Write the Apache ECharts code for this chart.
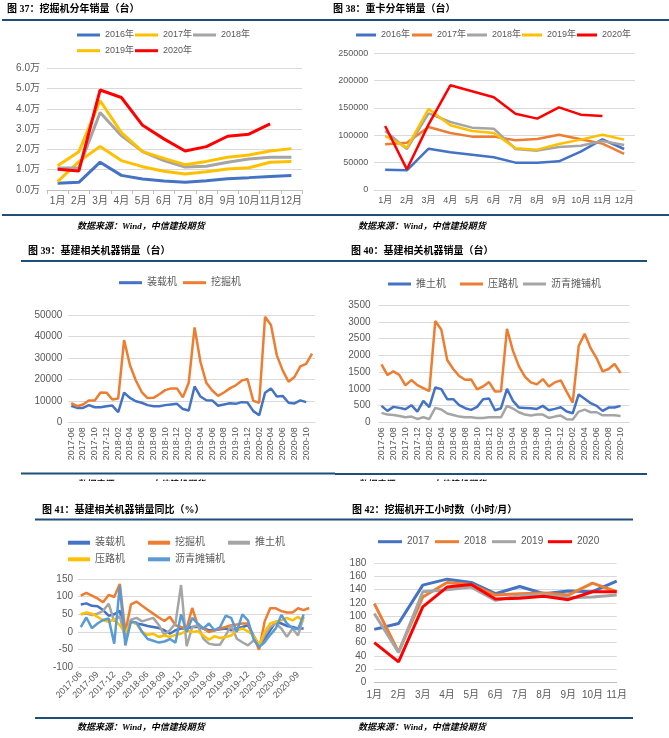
<!DOCTYPE html>
<html><head><meta charset="utf-8">
<script src="https://cdn.jsdelivr.net/npm/echarts/dist/echarts.min.js"></script>
<style>html,body{margin:0;padding:0;background:#fff}#c{width:669px;height:738px}</style>
</head><body><div id="c"></div>
<script>
// ---------- categories ----------
const months12 = ['1月','2月','3月','4月','5月','6月','7月','8月','9月','10月','11月','12月'];
const months11 = ['1月','2月','3月','4月','5月','6月','7月','8月','9月','10月','11月'];
const ym = ['2017-06','2017-07','2017-08','2017-09','2017-10','2017-11','2017-12',
  '2018-01','2018-02','2018-03','2018-04','2018-05','2018-06','2018-07','2018-08','2018-09','2018-10','2018-11','2018-12',
  '2019-01','2019-02','2019-03','2019-04','2019-05','2019-06','2019-07','2019-08','2019-09','2019-10','2019-11','2019-12',
  '2020-01','2020-02','2020-03','2020-04','2020-05','2020-06','2020-07','2020-08','2020-09','2020-10','2020-11'];

// ---------- 图37 挖掘机分年销量（台） ----------
const exc2016 = [3300,3800,13700,7200,5400,4400,3800,4600,5600,6100,6700,7200];
const exc2017 = [4100,14000,21500,14500,11500,9200,7900,9000,10400,11000,13700,14100];
const exc2018 = [10800,11000,38200,26800,18900,14500,11300,11700,13700,15300,16100,16100];
const exc2019 = [12000,18900,44000,28300,18900,15600,12500,14100,16100,17300,19200,20400];
const exc2020 = [10200,9400,49300,45600,31900,25200,19200,21400,26500,27500,32600];

// ---------- 图38 重卡分年销量（台） ----------
const truck2016 = [37200,36000,75600,68900,64600,59800,50000,50000,52400,70100,92700,75000];
const truck2017 = [83500,86600,115200,104300,97600,97600,90900,93300,101200,92700,84800,65900];
const truck2018 = [108000,75000,140200,124400,114000,112200,75000,72000,78700,81100,89600,82300];
const truck2019 = [98800,77400,148200,118300,108000,104300,76200,73800,84100,92100,101200,92100];
const truck2020 = [117100,37800,120000,191500,180500,169500,139600,130500,151200,137800,135400];

// ---------- 图39 基建相关机器销量（台） ----------
const loaderSales = [7700,6700,6700,8000,7000,7000,7500,7800,4700,13800,11400,9800,9100,8000,7500,7500,8000,8300,8600,6200,5500,16700,12000,10300,10200,7700,8300,8900,8600,9400,9200,5200,3300,13800,15800,12000,12300,9100,8800,10200,9400];
const excSales = [8900,7500,8300,10200,10200,13900,13800,10600,11100,38300,26600,19500,14100,11300,11400,13100,15000,15800,15800,11600,18400,44200,28100,18400,14800,12300,13900,15800,17200,19400,20200,10000,9100,49200,45300,31200,24200,18900,21100,26100,27200,32000];

// ---------- 图40 基建相关机器销量（台） ----------
const dozerSales = [490,340,460,430,390,510,320,640,450,1040,990,690,690,510,420,370,460,690,710,360,420,1000,640,440,430,420,400,490,360,400,450,320,270,830,700,570,490,340,440,440,490];
const rollerSales = [1730,1410,1520,1410,1100,1260,1110,1020,930,3020,2770,1860,1590,1380,1270,1280,980,1070,1200,920,930,2790,2130,1670,1360,1190,1130,1290,1070,1190,1250,910,590,2280,2640,2210,1910,1520,1590,1740,1470];
const paverSales = [280,230,220,190,150,170,100,150,100,430,380,260,220,170,150,150,130,130,150,150,150,490,410,300,230,200,230,230,130,170,200,90,80,320,380,300,300,210,210,210,190];

// ---------- 图41 基建相关机器销量同比（%） ----------
const yoyLoader = [78,81,74,73,62,46,50,60,-5,29,24,21,17,14,11,5,-5,5,10,10,14,14,10,5,5,8,10,5,10,14,19,-10,-38,-19,5,29,24,17,14,10,10];
const yoyExc = [103,111,103,95,84,105,99,136,0,78,86,74,63,52,41,31,43,19,14,10,68,19,10,0,5,10,14,19,21,24,24,-14,-50,30,67,67,59,55,55,67,62,68];
const yoyDozer = [50,52,48,52,60,80,30,45,-20,35,40,30,35,40,20,-8,5,25,133,-40,14,19,-19,-33,-36,-36,-10,19,-19,-29,-38,-24,-38,-10,14,24,10,-14,10,-10,43];
const yoyRoller = [50,55,52,43,33,29,36,19,-2,29,24,0,-8,-5,-14,-10,-14,-8,-5,5,0,2,-10,-22,-12,-17,-14,-10,5,10,2,-10,-38,0,24,29,33,40,33,43,29];
const yoyPaver = [14,41,11,24,34,38,-33,130,-38,30,27,0,-20,-25,-30,-27,-20,-30,50,0,40,24,10,24,5,14,46,40,0,50,33,-19,-43,-29,-8,10,48,24,11,8,50];

// ---------- 图42 挖掘机开工小时数（小时/月） ----------
const hours2017 = [80,89,147,156,151,134,145,134,138,137,153];
const hours2018 = [119,46,129,151,148,132,134,135,132,150,137];
const hours2019 = [104,45,137,140,144,124,131,133,128,129,132];
const hours2020 = [60,31,114,144,148,126,127,130,125,137,137];

// ---------- styling ----------
const BLUE='#4472C4', ORANGE='#ED7D31', GRAY='#A5A5A5', YELLOW='#FFC000', LBLUE='#5B9BD5', RED='#FF0000';
const GRID_C='#D9D9D9', AXIS_C='#BFBFBF', LABEL_C='#595959', NAVY='#1F4E79';
const FONT="'Liberation Sans','Noto Sans CJK SC',sans-serif";
const TFONT="'Liberation Serif','Noto Sans CJK SC',serif";
const plain = function(v){return String(v);};

function yAx(gi,min,max,interval,fs,margin,fmt){
  return {type:'value',gridIndex:gi,min:min,max:max,interval:interval,
    axisLine:{show:false},axisTick:{show:false},
    splitLine:{show:true,lineStyle:{color:GRID_C,width:1}},
    axisLabel:{color:LABEL_C,fontSize:fs,fontFamily:FONT,margin:margin,formatter:fmt||plain}};
}
function xAx(gi,data,o){
  return {type:'category',gridIndex:gi,data:data,boundaryGap:o.bg!==false,
    axisLine:{show:true,onZero:false,lineStyle:{color:o.lc||GRID_C,width:1}},
    axisTick:{show:!!o.tick,length:4,interval:0,alignWithLabel:false,lineStyle:{color:AXIS_C}},
    splitLine:{show:false},
    axisLabel:{color:LABEL_C,fontSize:o.fs,fontFamily:FONT,margin:o.margin,interval:o.interval||0,rotate:o.rotate||0}};
}
function ln(name,data,color,width,gi){
  return {type:'line',name:name,data:data,xAxisIndex:gi,yAxisIndex:gi,symbol:'none',showSymbol:false,
    lineStyle:{color:color,width:width},itemStyle:{color:color},emphasis:{disabled:true},
    silent:true,animation:false};
}
function leg(name,color,left,cy,iw,ih,fs){
  return {show:true,left:left,top:cy-6,padding:0,icon:'rect',itemWidth:iw,itemHeight:ih,selectedMode:false,
    data:[{name:name,itemStyle:{color:color,borderWidth:0}}],
    textStyle:{fontSize:fs,color:LABEL_C,fontFamily:FONT,lineHeight:12}};
}

const graphics=[];
function title(text,x,y){graphics.push({type:'text',x:x,y:y,z:10,style:{text:text,fill:'#000',
  font:"bold 10px "+TFONT,align:'left',verticalAlign:'middle',textAlign:'left',textVerticalAlign:'middle'}});}
function bar(x1,x2,y){graphics.push({type:'rect',z:10,shape:{x:x1,y:y-1,width:x2-x1,height:2},style:{fill:NAVY}});}
function src(x,y){graphics.push({type:'text',x:x,y:y,z:10,style:{text:'数据来源：Wind，中信建投期货',fill:'#000',
  font:"italic bold 9px "+TFONT,align:'left',verticalAlign:'middle',textAlign:'left',textVerticalAlign:'middle'}});}

title('图 37：挖掘机分年销量（台）',7,9.5);
title('图 38：重卡分年销量（台）',333,9.5);
title('图 39：基建相关机器销量（台）',28,251.7);
title('图 40：基建相关机器销量（台）',351,251.7);
title('图 41：基建相关机器销量同比（%）',42,510);
title('图 42：挖掘机开工小时数（小时/月）',352,510);
bar(2,335,20); bar(335,669,20);
bar(21,335,261); bar(335,647,261);
bar(35,335,519.5); bar(335,633,519.5);
bar(2,335,215); bar(335,669,215);
bar(21,335,473.5); bar(335,647,474);
bar(35,335,718); bar(335,633,718);
src(77,226.7); src(358,226.7); src(77,728); src(358,728);
src(77,484.5); src(358,484.5);
graphics.push({type:'rect',z:20,shape:{x:0,y:481,width:669,height:14},style:{fill:'#fff'}});

const option={
  animation:false,
  backgroundColor:'#fff',
  grid:[
    {left:47,top:68.3,width:255,height:121.7,containLabel:false,outerBoundsMode:'none'},
    {left:374.3,top:53.3,width:260.7,height:136.7,containLabel:false,outerBoundsMode:'none'},
    {left:68.3,top:315,width:246.7,height:107.3,containLabel:false,outerBoundsMode:'none'},
    {left:378.5,top:305,width:251,height:117.3,containLabel:false,outerBoundsMode:'none'},
    {left:78,top:579,width:234,height:88.3,containLabel:false,outerBoundsMode:'none'},
    {left:374.3,top:563.3,width:242.4,height:119,containLabel:false,outerBoundsMode:'none'}
  ],
  xAxis:[
    xAx(0,months12,{fs:10,margin:6,tick:true,lc:AXIS_C}),
    xAx(1,months12,{fs:9,margin:6.5}),
    xAx(2,ym,{fs:9,margin:5,rotate:90,interval:1}),
    xAx(3,ym,{fs:9,margin:5,rotate:90,interval:1}),
    xAx(4,ym,{fs:9,margin:6,rotate:45,interval:2}),
    xAx(5,months11,{fs:10,margin:8,bg:false,lc:AXIS_C})
  ],
  yAxis:[
    yAx(0,0,60000,10000,10,7,function(v){return (v/10000).toFixed(1)+'万';}),
    yAx(1,0,250000,50000,9,6),
    yAx(2,0,50000,10000,10,6),
    yAx(3,0,3500,500,10,8),
    yAx(4,-100,150,50,10,5),
    yAx(5,0,180,20,10,8)
  ],
  legend:[
    leg('2016年',BLUE,77,35,23,3,9), leg('2017年',YELLOW,135,35,23,3,9), leg('2018年',GRAY,193,35,23,3,9),
    leg('2019年',YELLOW,77,50.7,23,3,9), leg('2020年',RED,135,50.7,23,3,9),
    leg('2016年',BLUE,356,35,20,3,9), leg('2017年',ORANGE,412,35,20,3,9), leg('2018年',GRAY,467,35,20,3,9),
    leg('2019年',YELLOW,522,35,20,3,9), leg('2020年',RED,577,35,20,3,9),
    leg('装载机',BLUE,119,282.7,23,3,10), leg('挖掘机',ORANGE,183,282.7,23,3,10),
    leg('推土机',BLUE,388,284,23,3,10), leg('压路机',ORANGE,460,284,23,3,10), leg('沥青摊铺机',GRAY,523,284,23,3,10),
    leg('装载机',BLUE,68,542.7,22,4,10), leg('挖掘机',ORANGE,148,542.7,22,4,10), leg('推土机',GRAY,228,542.7,22,4,10),
    leg('压路机',YELLOW,68,559.3,22,4,10), leg('沥青摊铺机',LBLUE,148,559.3,22,4,10),
    leg('2017',BLUE,378,541.7,24,3,10), leg('2018',ORANGE,435,541.7,24,3,10), leg('2019',GRAY,492,541.7,24,3,10), leg('2020',RED,548,541.7,24,3,10)
  ],
  graphic:graphics,
  series:[
    ln('2016年',exc2016,BLUE,3,0), ln('2017年',exc2017,YELLOW,3,0), ln('2018年',exc2018,GRAY,3,0),
    ln('2019年',exc2019,YELLOW,3,0), ln('2020年',exc2020,RED,3,0),
    ln('2016年',truck2016,BLUE,2.5,1), ln('2017年',truck2017,ORANGE,2.5,1), ln('2018年',truck2018,GRAY,2.5,1),
    ln('2019年',truck2019,YELLOW,2.5,1), ln('2020年',truck2020,RED,2.5,1),
    ln('装载机',loaderSales,BLUE,2.5,2), ln('挖掘机',excSales,ORANGE,2.5,2),
    ln('推土机',dozerSales,BLUE,2.5,3), ln('压路机',rollerSales,ORANGE,2.5,3), ln('沥青摊铺机',paverSales,GRAY,2.5,3),
    ln('装载机',yoyLoader,BLUE,2.5,4), ln('挖掘机',yoyExc,ORANGE,2.5,4), ln('推土机',yoyDozer,GRAY,2.5,4),
    ln('压路机',yoyRoller,YELLOW,2.5,4), ln('沥青摊铺机',yoyPaver,LBLUE,2.5,4),
    ln('2017',hours2017,BLUE,3,5), ln('2018',hours2018,ORANGE,3,5), ln('2019',hours2019,GRAY,3,5), ln('2020',hours2020,RED,3,5)
  ]
};
const chart=echarts.init(document.getElementById('c'));
chart.setOption(option);
</script></body></html>
